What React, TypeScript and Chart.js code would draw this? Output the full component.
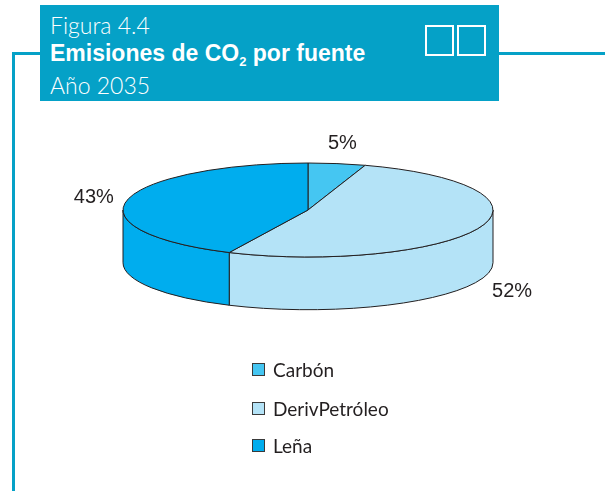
import React, { useEffect, useRef } from "react";
import { Chart, registerables } from "chart.js";

Chart.register(...registerables);

const categories = ["Carbón", "DerivPetróleo", "Leña"];
const shares = [5, 52, 43];
const sliceColors = ["#45C6F2", "#B4E3F7", "#00ADEE"];
const valueLabels = ["5%", "52%", "43%"];

const TEAL = "#05A1C7";
const TILT = 0.254;
const DEPTH = 0.285;

const pie3d = {
  id: "pie3d",
  beforeDatasetsDraw(chart: any) {
    const meta = chart.getDatasetMeta(0);
    const arcs = meta.data as any[];
    if (!arcs.length) return false;
    const ctx = chart.ctx as CanvasRenderingContext2D;
    const p = arcs[0].getProps(["x", "y", "outerRadius"], true);
    const cx = p.x, cy = p.y, rx = p.outerRadius, ry = p.outerRadius * TILT;
    const depth = p.outerRadius * DEPTH;
    ctx.save();
    ctx.lineWidth = 1;
    ctx.strokeStyle = "#231f20";
    ctx.lineJoin = "round";
    arcs.forEach((arc, i) => {
      const q = arc.getProps(["startAngle", "endAngle"], true);
      for (const off of [0, 2 * Math.PI, -2 * Math.PI]) {
        const a = Math.max(q.startAngle, off);
        const b = Math.min(q.endAngle, Math.PI + off);
        if (b > a) {
          ctx.beginPath();
          ctx.ellipse(cx, cy, rx, ry, 0, a, b, false);
          ctx.lineTo(cx + rx * Math.cos(b), cy + ry * Math.sin(b) + depth);
          ctx.ellipse(cx, cy + depth, rx, ry, 0, b, a, true);
          ctx.closePath();
          ctx.fillStyle = sliceColors[i];
          ctx.fill();
          ctx.stroke();
        }
      }
    });
    arcs.forEach((arc, i) => {
      const q = arc.getProps(["startAngle", "endAngle"], true);
      ctx.beginPath();
      ctx.moveTo(cx, cy);
      ctx.ellipse(cx, cy, rx, ry, 0, q.startAngle, q.endAngle, false);
      ctx.closePath();
      ctx.fillStyle = sliceColors[i];
      ctx.fill();
      ctx.stroke();
    });
    ctx.restore();
    return false;
  },
  afterDraw(chart: any) {
    const meta = chart.getDatasetMeta(0);
    const arcs = meta.data as any[];
    if (!arcs.length) return;
    const ctx = chart.ctx as CanvasRenderingContext2D;
    const p = arcs[0].getProps(["x", "y", "outerRadius"], true);
    const cx = p.x, cy = p.y, rx = p.outerRadius, ry = p.outerRadius * TILT;
    const depth = p.outerRadius * DEPTH;
    ctx.save();
    ctx.font = "20px 'Liberation Sans', Arial, sans-serif";
    ctx.fillStyle = "#231f20";
    ctx.textAlign = "center";
    ctx.textBaseline = "middle";
    arcs.forEach((arc, i) => {
      const q = arc.getProps(["startAngle", "endAngle"], true);
      const m = (q.startAngle + q.endAngle) / 2;
      const s = Math.sin(m);
      const x = cx + (rx * 1.17 + 3) * Math.cos(m);
      const y = cy + (ry * 1.4 + 5) * s + (s > 0 ? depth : 0) + 3;
      ctx.fillText(valueLabels[i], x, y);
    });
    ctx.restore();
  },
};

export default function App() {
  const ref = useRef<HTMLCanvasElement | null>(null);
  useEffect(() => {
    if (!ref.current) return;
    const chart = new Chart(ref.current, {
      type: "pie",
      data: {
        labels: categories,
        datasets: [
          {
            data: shares,
            backgroundColor: sliceColors,
            borderWidth: 0,
          },
        ],
      },
      options: {
        animation: false,
        responsive: false,
        devicePixelRatio: 1,
        layout: { padding: { left: 123, right: 112, top: 25, bottom: 96 } },
        plugins: { legend: { display: false }, tooltip: { enabled: false } },
      },
      plugins: [pie3d],
    });
    return () => chart.destroy();
  }, []);

  const legendTops = [369, 408, 445];

  return (
    <div style={{ position: "absolute", left: 0, top: 0, width: 605, height: 491, background: "#fff", overflow: "hidden" }}>
      <canvas ref={ref} width={605} height={491} style={{ position: "absolute", left: 0, top: 0 }} />
      <div style={{ position: "absolute", left: 12, top: 52, width: 3, height: 439, background: TEAL }} />
      <div style={{ position: "absolute", left: 12, top: 52, width: 30, height: 3, background: TEAL }} />
      <div style={{ position: "absolute", left: 498, top: 52, width: 107, height: 3, background: TEAL }} />
      <div style={{ position: "absolute", left: 40, top: 5, width: 459, height: 96, background: TEAL }}>
        <div style={{ position: "absolute", left: 10, top: 6, color: "#fff", font: "300 23px Lato, sans-serif", whiteSpace: "nowrap" }}>Figura 4.4</div>
        <div style={{ position: "absolute", left: 10, top: 35, color: "#fff", font: "bold 23px 'Liberation Sans', Arial, sans-serif", whiteSpace: "nowrap" }}>
          Emisiones de CO<sub style={{ fontSize: 13, verticalAlign: "-5px" }}>2</sub> por fuente
        </div>
        <div style={{ position: "absolute", left: 10, top: 66, color: "#fff", font: "300 23px Lato, sans-serif", whiteSpace: "nowrap" }}>Año 2035</div>
        <div style={{ position: "absolute", left: 385, top: 20, width: 25, height: 27, border: "2px solid #fff" }} />
        <div style={{ position: "absolute", left: 417, top: 20, width: 25, height: 27, border: "2px solid #fff" }} />
      </div>
      {categories.map((c, i) => (
        <div key={c} style={{ position: "absolute", left: 252, top: legendTops[i] - 12, height: 24, display: "flex", alignItems: "center" }}>
          <div style={{ width: 11, height: 11, background: sliceColors[i], border: "1px solid #3a3a3a", marginRight: 8 }} />
          <span style={{ font: "19px Lato, sans-serif", color: "#231f20", whiteSpace: "nowrap" }}>{c}</span>
        </div>
      ))}
    </div>
  );
}
